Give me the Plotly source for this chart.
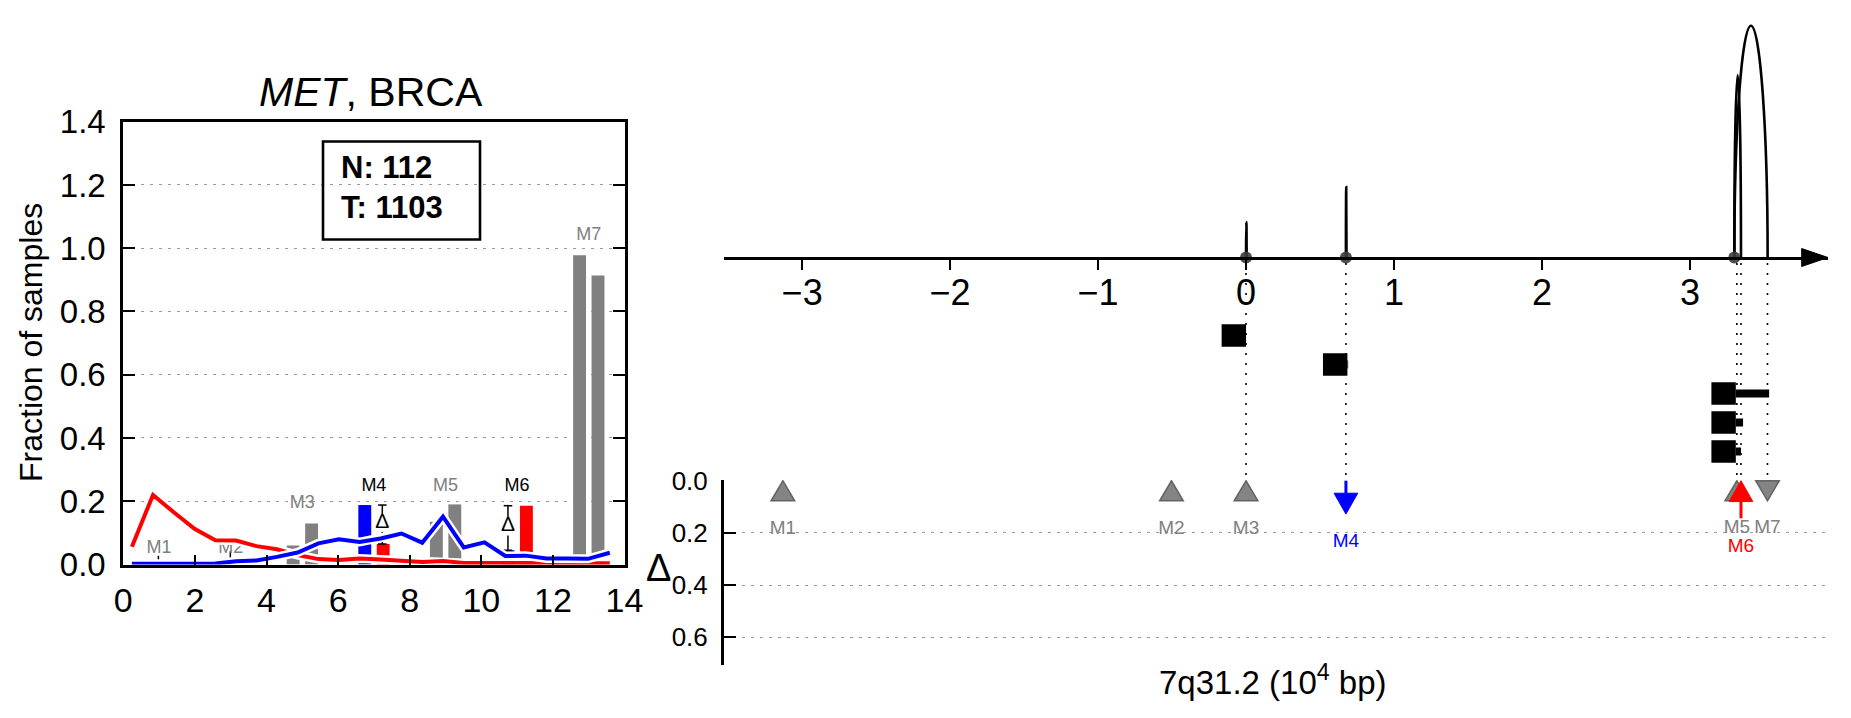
import plotly.graph_objects as go

W, H = 1851, 718
OFF = 8  # page body margin
FONT = "Liberation Sans, Arial, Helvetica, sans-serif"
GRAY = "#808080"
BLUE = "#0000ff"
RED = "#ff0000"
BLACK = "#000000"

# ---------------- LEFT PANEL DATA ----------------
bin_x = [0.24, 0.83, 1.41, 1.99, 2.57, 3.15, 3.72, 4.29, 4.87, 5.45, 6.02, 6.60,
         7.19, 7.77, 8.35, 8.93, 9.51, 10.09, 10.67, 11.24, 11.82, 12.40, 12.98, 13.59]
red_frac = [0.056, 0.220, 0.165, 0.113, 0.077, 0.076, 0.058, 0.048, 0.030, 0.017, 0.014, 0.019,
            0.016, 0.012, 0.008, 0.011, 0.005, 0.005, 0.006, 0.005, 0.004, 0.004, 0.004, 0.004]
blue_frac = [0.002, 0.002, 0.002, 0.002, 0.003, 0.010, 0.013, 0.024, 0.038, 0.067, 0.080, 0.071,
             0.082, 0.098, 0.069, 0.151, 0.054, 0.070, 0.027, 0.028, 0.019, 0.019, 0.018, 0.037]

motif_names = ["M1", "M2", "M3", "M4", "M5", "M6", "M7"]
motif_center = [1, 3, 5, 7, 9, 11, 13]
bar_left = [0.0, 0.0, 0.060, 0.188, 0.135, 0.045, 0.978]
bar_right = [0.0, 0.0, 0.130, 0.065, 0.190, 0.186, 0.914]
bar_left_color = [GRAY, GRAY, GRAY, BLUE, GRAY, BLUE, GRAY]
bar_right_color = [GRAY, GRAY, GRAY, RED, GRAY, RED, GRAY]
label_left_y = [0.051, 0.051, 0.192, 0.245, 0.245, 0.245, 1.040]
label_left_color = [GRAY, GRAY, GRAY, BLACK, GRAY, BLACK, GRAY]

delta_x = [7.235, 10.745]
delta_lo = [0.065, 0.045]
delta_hi = [0.188, 0.186]
small_x = [0.98, 2.99]
small_hi = [0.028, 0.042]

n_normal = 112
n_tumor = 1103

# ---------------- RIGHT PANEL DATA ----------------
axis_ticks = [-3, -2, -1, 0, 1, 2, 3]
arc_start = [0.0, 0.675, 3.30, 3.30]
arc_end = [0.004, 0.679, 3.345, 3.525]
arc_height = [35.5, 70.5, 182.5, 231.8]
site_x = [0.0, 0.675, 3.30]

gene_row = [1, 2, 3, 4, 5]
exon_start = [-0.165, 0.52, 3.145, 3.145, 3.145]
exon_end = [0.0, 0.685, 3.31, 3.31, 3.31]
tail_end = [0.0, 0.69, 3.535, 3.359, 3.345]

motif_pos = [-3.13, -0.504, 0.0, 0.675, 3.317, 3.345, 3.524]
motif_kind = ["up", "up", "up", "arrow_down", "up", "arrow_up", "down"]
motif_delta = [0.0, 0.0, 0.0, 0.128, 0.0, 0.144, 0.0]
motif_color = [GRAY, GRAY, GRAY, BLUE, GRAY, RED, GRAY]
motif_label_y = [0.186, 0.186, 0.186, 0.237, 0.182, 0.256, 0.182]
linked = [False, False, True, True, True, True, True]

# ---------------- geometry helpers (screen px -> paper) ----------------
def pxx(p):
    return (p - OFF) / W

def pxy(p):
    return 1 - (p - OFF) / H

fig = go.Figure()

# ---- left: bars
left_x = [c - 0.255 for c in motif_center]
right_x = [c + 0.26 for c in motif_center]
fig.add_trace(go.Bar(x=left_x, y=bar_left, base=0, width=0.36,
                     marker=dict(color=bar_left_color, line=dict(width=0)),
                     xaxis="x", yaxis="y", hoverinfo="skip"))
fig.add_trace(go.Bar(x=right_x, y=bar_right, base=0, width=0.36,
                     marker=dict(color=bar_right_color, line=dict(width=0)),
                     xaxis="x", yaxis="y", hoverinfo="skip"))

# ---- left: delta brackets
bx, by = [], []
cap = 0.12
for x, lo, hi in zip(delta_x, delta_lo, delta_hi):
    mid = (lo + hi) / 2
    bx += [x - cap, x + cap, None, x, x, None, x, x, None, x - cap, x + cap, None]
    by += [hi, hi, None, hi, mid + 0.032, None, mid - 0.024, lo, None, lo, lo, None]
for x, hi in zip(small_x, small_hi):
    bx += [x, x, None]
    by += [0.0, hi, None]
fig.add_trace(go.Scatter(x=bx, y=by, mode="lines", line=dict(color=BLACK, width=1.5),
                         xaxis="x", yaxis="y", hoverinfo="skip", cliponaxis=False))
fig.add_trace(go.Scatter(x=delta_x, y=[(lo + hi) / 2 + 0.006 for lo, hi in zip(delta_lo, delta_hi)],
                         mode="text", text=["Δ"] * len(delta_x),
                         textfont=dict(family=FONT, size=21, color=BLACK),
                         xaxis="x", yaxis="y", hoverinfo="skip", cliponaxis=False))

# ---- left: motif labels
fig.add_trace(go.Scatter(x=motif_center, y=label_left_y, mode="text", text=motif_names,
                         textfont=dict(family=FONT, size=18, color=label_left_color),
                         xaxis="x", yaxis="y", hoverinfo="skip", cliponaxis=False))

# ---- left: lines with white outline
for vals, col in [(red_frac, RED), (blue_frac, BLUE)]:
    fig.add_trace(go.Scatter(x=bin_x, y=vals, mode="lines", line=dict(color="white", width=9),
                             xaxis="x", yaxis="y", hoverinfo="skip", cliponaxis=False))
    fig.add_trace(go.Scatter(x=bin_x, y=vals, mode="lines", line=dict(color=col, width=4),
                             xaxis="x", yaxis="y", hoverinfo="skip", cliponaxis=False))

# ---- right: site dots on the genomic axis
fig.add_trace(go.Scatter(x=site_x, y=[0] * len(site_x), mode="markers",
                         marker=dict(size=12, color="rgba(60,60,60,0.9)", line=dict(width=0)),
                         xaxis="x2", yaxis="y2", hoverinfo="skip", cliponaxis=False))

# ---- right: dotted connectors
cx, cy = [], []
for p, l in zip(motif_pos, linked):
    if l:
        cx += [p, p, None]
        cy += [-1.5, 5.98, None]
fig.add_trace(go.Scatter(x=cx, y=cy, mode="lines",
                         line=dict(color=BLACK, width=1.6, dash="2px,8px"),
                         xaxis="x2", yaxis="y3", hoverinfo="skip", cliponaxis=False))

# ---- right: lower labels
fig.add_trace(go.Scatter(x=motif_pos, y=motif_label_y, mode="text", text=motif_names,
                         textfont=dict(family=FONT, size=19, color=motif_color),
                         xaxis="x2", yaxis="y4", hoverinfo="skip", cliponaxis=False))

shapes = []
# arcs
K = 0.5523
for x0, x1, h in zip(arc_start, arc_end, arc_height):
    c = (x0 + x1) / 2
    r = (x1 - x0) / 2
    path = (f"M {x0},0 C {x0},{K*h} {c - K*r},{h} {c},{h} "
            f"C {c + K*r},{h} {x1},{K*h} {x1},0")
    shapes.append(dict(type="path", path=path, xref="x2", yref="y2", layer="below",
                       line=dict(color=BLACK, width=2.6), fillcolor="rgba(0,0,0,0)"))
# axis arrowhead
shapes.append(dict(type="path", path="M 3.755,9 L 3.933,0 L 3.755,-9 Z", xref="x2", yref="y2",
                   line=dict(color=BLACK, width=1), fillcolor=BLACK))
# gene model
RH = 0.39
TH = 0.14
for r, s, e, t in zip(gene_row, exon_start, exon_end, tail_end):
    shapes.append(dict(type="rect", x0=s, x1=e, y0=r - RH, y1=r + RH, xref="x2", yref="y3",
                       line=dict(width=0), fillcolor=BLACK))
    if t > e:
        shapes.append(dict(type="rect", x0=e, x1=t, y0=r - TH, y1=r + TH, xref="x2", yref="y3",
                           line=dict(width=0), fillcolor=BLACK))
# delta-panel markers
HW = 0.08
TRI = 0.077
AH = 0.08
for p, k, d, col in zip(motif_pos, motif_kind, motif_delta, motif_color):
    if k == "up":
        shapes.append(dict(type="path", path=f"M {p-HW},{TRI} L {p+HW},{TRI} L {p},0 Z",
                           xref="x2", yref="y4", line=dict(color="rgba(90,90,90,0.9)", width=1.5),
                           fillcolor="rgba(110,110,110,0.85)"))
    elif k == "down":
        shapes.append(dict(type="path", path=f"M {p-HW},0 L {p+HW},0 L {p},{TRI} Z",
                           xref="x2", yref="y4", line=dict(color="rgba(90,90,90,0.9)", width=1.5),
                           fillcolor="rgba(110,110,110,0.85)"))
for p, k, d, col in zip(motif_pos, motif_kind, motif_delta, motif_color):
    if k == "arrow_down":
        shapes.append(dict(type="line", x0=p, x1=p, y0=0, y1=d - AH, xref="x2", yref="y4",
                           line=dict(color=col, width=3)))
        shapes.append(dict(type="path", path=f"M {p-HW},{d-AH} L {p+HW},{d-AH} L {p},{d} Z",
                           xref="x2", yref="y4", line=dict(color=col, width=1), fillcolor=col))
    elif k == "arrow_up":
        shapes.append(dict(type="line", x0=p, x1=p, y0=d, y1=AH, xref="x2", yref="y4",
                           line=dict(color=col, width=3)))
        shapes.append(dict(type="path", path=f"M {p-HW},{AH} L {p+HW},{AH} L {p},0 Z",
                           xref="x2", yref="y4", line=dict(color=col, width=1), fillcolor=col))
# N/T box
shapes.append(dict(type="rect", xref="paper", yref="paper",
                   x0=pxx(323), x1=pxx(480), y0=pxy(239.5), y1=pxy(141.5),
                   line=dict(color=BLACK, width=2.6), fillcolor="rgba(0,0,0,0)"))

annotations = [
    dict(text="<i>MET</i>, BRCA", x=pxx(371), y=pxy(92), xref="paper", yref="paper",
         xanchor="center", yanchor="middle", showarrow=False,
         font=dict(family=FONT, size=41, color=BLACK)),
    dict(text=f"<b>N: {n_normal}<br>T: {n_tumor}</b>", x=pxx(339), y=pxy(187),
         xref="paper", yref="paper", xanchor="left", yanchor="middle", align="left",
         showarrow=False, font=dict(family=FONT, size=31, color=BLACK)),
    dict(text="Fraction of samples", x=pxx(31), y=pxy(343), xref="paper", yref="paper",
         xanchor="center", yanchor="middle", textangle=-90, showarrow=False,
         font=dict(family=FONT, size=32, color=BLACK)),
    dict(text="Δ", x=pxx(658), y=pxy(568), xref="paper", yref="paper",
         xanchor="center", yanchor="middle", showarrow=False,
         font=dict(family=FONT, size=38, color=BLACK)),
    dict(text="7q31.2 (10<sup>4</sup> bp)", x=pxx(1273), y=pxy(680), xref="paper", yref="paper",
         xanchor="center", yanchor="middle", showarrow=False,
         font=dict(family=FONT, size=33, color=BLACK)),
]

grid_dash = "3px,6px"
fig.update_layout(
    template="none",
    width=W, height=H,
    margin=dict(l=0, r=0, t=0, b=0, pad=0, autoexpand=False),
    paper_bgcolor="white", plot_bgcolor="rgba(0,0,0,0)",
    showlegend=False, barmode="overlay",
    font=dict(family=FONT, color=BLACK),
    shapes=shapes, annotations=annotations,
    xaxis=dict(domain=[pxx(123.3), pxx(624.5)], range=[0, 14], anchor="y", automargin=False,
               tickvals=list(range(0, 15, 2)), ticks="inside", ticklen=10, tickwidth=1.5,
               tickcolor=BLACK, showline=True, linewidth=3, linecolor=BLACK, mirror=True,
               showgrid=False, zeroline=False, tickfont=dict(family=FONT, size=34),
               ticklabelstandoff=4),
    yaxis=dict(domain=[pxy(564.5), pxy(121.7)], range=[0, 1.4], anchor="x", automargin=False,
               tickvals=[0, 0.2, 0.4, 0.6, 0.8, 1.0, 1.2, 1.4], tickformat=".1f",
               ticks="inside", ticklen=12, tickwidth=1.5, tickcolor=BLACK,
               showline=True, linewidth=3, linecolor=BLACK, mirror="ticks",
               showgrid=True, gridcolor="#9a9a9a", gridwidth=1, griddash=grid_dash,
               zeroline=False, tickfont=dict(family=FONT, size=33), ticklabelstandoff=8),
    xaxis2=dict(domain=[pxx(724), pxx(1828)], range=[-3.528, 3.933], anchor="free",
                position=pxy(257.5), tickvals=axis_ticks, ticks="outside", ticklen=10,
                tickwidth=1.5, tickcolor=BLACK, showline=True, linewidth=3, linecolor=BLACK,
                showgrid=False, zeroline=False, tickfont=dict(family=FONT, size=36),
                ticklabelstandoff=-8, automargin=False),
    yaxis2=dict(domain=[pxy(270), pxy(10)], range=[-12.5, 247.5], anchor="x2", visible=False,
                automargin=False),
    yaxis3=dict(domain=[pxy(480.7), pxy(257.5)], range=[6.007, -1.69], anchor="x2", visible=False,
                automargin=False),
    yaxis4=dict(domain=[pxy(665), pxy(479.9)], range=[0.706, -0.003], anchor="x2", automargin=False,
                tickvals=[0, 0.2, 0.4, 0.6], tickformat=".1f", ticks="inside", ticklen=12,
                tickwidth=1.5, tickcolor=BLACK, showline=True, linewidth=3, linecolor=BLACK,
                showgrid=True, gridcolor="#9a9a9a", gridwidth=1, griddash=grid_dash,
                zeroline=False, tickfont=dict(family=FONT, size=26), ticklabelstandoff=8),
)

fig.write_html("out.html")
